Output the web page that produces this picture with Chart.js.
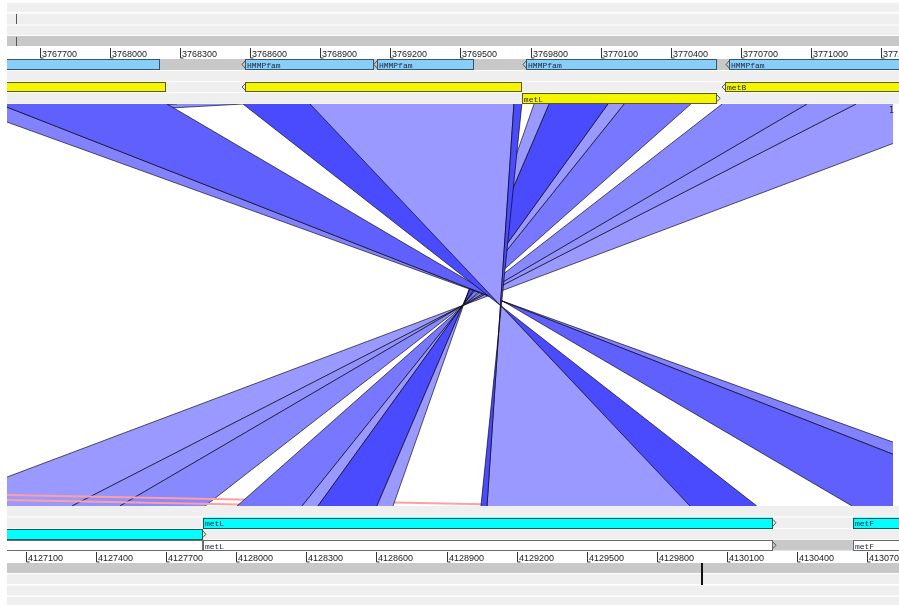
<!DOCTYPE html>
<html>
<head>
<meta charset="utf-8">
<title>ACT comparison</title>
<script src="https://cdn.jsdelivr.net/npm/chart.js@4.4.1/dist/chart.umd.min.js"></script>
<style>
  body { margin: 0; background: #fff; }
  canvas { display: block; }
</style>
</head>
<body>
<canvas id="actChart" width="899" height="605"></canvas>
<script>
// ruler labels of both sequences (bp)
const topTicks = [3767700, 3768000, 3768300, 3768600, 3768900, 3769200, 3769500, 3769800, 3770100, 3770400, 3770700, 3771000, 3771300];
const botTicks = [4127100, 4127400, 4127700, 4128000, 4128300, 4128600, 4128900, 4129200, 4129500, 4129800, 4130100, 4130400, 4130700];

// features of the top sequence
const topFeatStart  = [3767445, 3768579, 3769143, 3769781, 3770649, 3767445, 3768579, 3770632, 3769763];
const topFeatEnd    = [3768215, 3769131, 3769558, 3770598, 3771594, 3768241, 3769763, 3771594, 3770598];
const topFeatTrack  = [0, 0, 0, 0, 0, 1, 1, 1, 2];
const topFeatKind   = ['pfam', 'pfam', 'pfam', 'pfam', 'pfam', 'gene', 'gene', 'gene', 'gene'];
const topFeatLabel  = ['', 'HMMPfam', 'HMMPfam', 'HMMPfam', 'HMMPfam', '', '', 'metB', 'metL'];
const topFeatStrand = [-1, -1, -1, -1, -1, -1, -1, -1, 1];

// features of the bottom sequence
const botFeatStart  = [4127858, 4130638, 4126904, 4126904, 4127858, 4130638];
const botFeatEnd    = [4130296, 4131053, 4127858, 4127858, 4130296, 4131053];
const botFeatTrack  = [0, 0, 1, 2, 2, 2];
const botFeatKind   = ['cds', 'cds', 'cds', 'plain', 'plain', 'plain'];
const botFeatLabel  = ['metL', 'metF', '', '', 'metL', 'metF'];
const botFeatStrand = [1, 1, 1, 1, 1, 1];

// blast matches between the two sequences (bp), in drawing order
const matchTopStart = [3768288, 3771192, 3770982, 3770619, 3681238, 3680139, 3770200, 3770131, 3769879, 3769815, 3767347, 3767527, 3768570, 3768857, 3769729];
const matchTopEnd   = [3768570, 3771799, 3771192, 3770982, 3681678, 3680575, 3770486, 3770200, 3770131, 3769879, 3767527, 3768245, 3768865, 3769729, 3769763];
const matchBotStart = [4097054, 4126691, 4127298, 4127503, 4129222, 4128123, 4128004, 4128282, 4128350, 4128602, 4131374, 4130634, 4129937, 4129073, 4129047];
const matchBotEnd   = [4097353, 4127298, 4127503, 4127867, 4129663, 4128560, 4128282, 4128350, 4128602, 4128671, 4131566, 4131374, 4130227, 4129941, 4129073];
const matchInverted = [true, true, true, true, false, false, true, true, true, true, true, true, true, true, true];
const matchIdentity = [91.5, 90.1, 90.8, 91.8, 89.4, 89.4, 93.5, 90.1, 98.0, 90.1, 92.4, 95.8, 98.0, 90.1, 98.0];

// layout of the ACT panels (pixel rows)
const topRows = [[3, 12, '#efefef'], [13.5, 24.5, '#efefef'], [25.5, 35, '#efefef'], [36, 46, '#c8c8c8'],
                 [59, 70, '#c8c8c8'], [71, 81, '#efefef'], [82, 92, '#efefef'], [93, 103.5, '#efefef']];
const botRows = [[506, 516.5, '#efefef'], [517.5, 528, '#efefef'], [529, 539.5, '#efefef'], [540, 550.5, '#c8c8c8'],
                 [563, 573, '#c8c8c8'], [574, 584, '#efefef'], [585.5, 595.5, '#efefef'], [597, 605, '#efefef']];
const topTrackRows = [[59, 70], [82, 92], [93, 103.5]];
const botTrackRows = [[517.5, 528], [529, 539.5], [540, 550.5]];
const kindStyle = {
  pfam:  { fill: '#87cefa', stroke: '#36566e' },
  gene:  { fill: '#f5f500', stroke: '#5a5a1e' },
  cds:   { fill: '#00ffff', stroke: '#145c5c' },
  plain: { fill: '#ffffff', stroke: '#6a6a6a' }
};
const LEFT = 7, RIGHT = 893, RIB_TOP = 104, RIB_BOT = 506;

function matchColour(i) {
  const c = Math.round(74 + (98 - matchIdentity[i]) * 10);
  return matchInverted[i] ? `rgb(${c},${c},255)` : `rgb(255,${c},${c})`;
}

function drawFeature(ctx, sx, sy, start, end, rows, kind, label, strand) {
  const st = kindStyle[kind];
  const x0 = sx.getPixelForValue(start), x1 = sx.getPixelForValue(end);
  const y0 = sy.getPixelForValue(rows[0]), y1 = sy.getPixelForValue(rows[1]);
  ctx.fillStyle = st.fill;
  ctx.fillRect(x0, y0, x1 - x0, y1 - y0);
  ctx.strokeStyle = st.stroke;
  ctx.lineWidth = 1;
  ctx.strokeRect(Math.round(x0) + 0.5, Math.round(y0) + 0.5, Math.round(x1 - x0) - 1, Math.round(y1 - y0) - 1);
  const mid = (y0 + y1) / 2;
  ctx.strokeStyle = '#555';
  ctx.beginPath();
  if (strand < 0) {
    ctx.moveTo(x0, y0 + 2); ctx.lineTo(x0 - 3, mid); ctx.lineTo(x0, y1 - 2);
  } else {
    ctx.moveTo(x1, y0 + 2); ctx.lineTo(x1 + 3, mid); ctx.lineTo(x1, y1 - 2);
  }
  ctx.stroke();
  if (label) {
    ctx.fillStyle = '#1c2634';
    ctx.font = '8px "Liberation Mono"';
    ctx.textAlign = 'left';
    ctx.textBaseline = 'alphabetic';
    ctx.fillText(label, x0 + 2, y1 - 2);
  }
}

function drawRuler(ctx, sx, sy, ticks, yTop, yBase) {
  const y0 = sy.getPixelForValue(yTop), yb = sy.getPixelForValue(yBase);
  ctx.strokeStyle = '#333';
  ctx.lineWidth = 1;
  ctx.fillStyle = '#1a1a1a';
  ctx.font = '9px "Liberation Sans"';
  ctx.textAlign = 'left';
  ctx.textBaseline = 'alphabetic';
  ticks.forEach(t => {
    const x = Math.round(sx.getPixelForValue(t)) + 0.5;
    ctx.beginPath();
    ctx.moveTo(x, y0); ctx.lineTo(x, yb); ctx.lineTo(x + 3, yb);
    ctx.stroke();
    ctx.fillText(String(t), x + 1.5, yb - 1);
  });
}

const actPlugin = {
  id: 'act',
  beforeDatasetsDraw(chart) {
    const ctx = chart.ctx;
    const xt = chart.scales.xTop, xb = chart.scales.xBot, sy = chart.scales.y;
    ctx.save();
    ctx.fillStyle = '#fff';
    ctx.fillRect(0, 0, chart.width, chart.height);

    // track backgrounds
    topRows.concat(botRows).forEach(r => {
      ctx.fillStyle = r[2];
      const y0 = sy.getPixelForValue(r[0]), y1 = sy.getPixelForValue(r[1]);
      ctx.fillRect(LEFT, y0, chart.width - LEFT, y1 - y0);
    });

    // matches
    const yT = sy.getPixelForValue(RIB_TOP), yB = sy.getPixelForValue(RIB_BOT);
    ctx.save();
    ctx.beginPath();
    ctx.rect(LEFT, yT, RIGHT - LEFT, yB - yT);
    ctx.clip();
    matchTopStart.forEach((ts, i) => {
      const a1 = xt.getPixelForValue(ts), a2 = xt.getPixelForValue(matchTopEnd[i]);
      const b1 = xb.getPixelForValue(matchBotStart[i]), b2 = xb.getPixelForValue(matchBotEnd[i]);
      // inverted matches join top start to bottom end
      const pA = matchInverted[i] ? [a1, b2] : [a1, b1];
      const pB = matchInverted[i] ? [a2, b1] : [a2, b2];
      ctx.fillStyle = matchColour(i);
      ctx.beginPath();
      ctx.moveTo(pA[0], yT); ctx.lineTo(pB[0], yT); ctx.lineTo(pB[1], yB); ctx.lineTo(pA[1], yB);
      ctx.closePath();
      ctx.fill();
      if (matchInverted[i]) {
        ctx.strokeStyle = 'rgba(0,0,0,0.8)';
        ctx.lineWidth = 0.8;
        ctx.beginPath();
        ctx.moveTo(pA[0], yT); ctx.lineTo(pA[1], yB);
        ctx.moveTo(pB[0], yT); ctx.lineTo(pB[1], yB);
        ctx.stroke();
      }
    });
    ctx.restore();

    // features
    ctx.save();
    ctx.beginPath();
    ctx.rect(LEFT, 0, chart.width - LEFT, chart.height);
    ctx.clip();
    topFeatStart.forEach((s, i) => drawFeature(ctx, xt, sy, s, topFeatEnd[i], topTrackRows[topFeatTrack[i]],
      topFeatKind[i], topFeatLabel[i], topFeatStrand[i]));
    botFeatStart.forEach((s, i) => drawFeature(ctx, xb, sy, s, botFeatEnd[i], botTrackRows[botFeatTrack[i]],
      botFeatKind[i], botFeatLabel[i], botFeatStrand[i]));

    drawRuler(ctx, xt, sy, topTicks, 48, 58);
    drawRuler(ctx, xb, sy, botTicks, 552, 562);

    // view position markers
    ctx.fillStyle = '#555';
    ctx.fillRect(16, 14, 1, 10);
    ctx.fillRect(16, 37, 1, 9);
    ctx.fillStyle = '#111';
    ctx.fillRect(701, 563, 2, 22);
    ctx.restore();

    ctx.fillStyle = '#333';
    ctx.font = '8px "DejaVu Sans"';
    ctx.fillText('1', 889, 113);
    ctx.restore();
  }
};

new Chart(document.getElementById('actChart'), {
  type: 'scatter',
  data: { datasets: [] },
  options: {
    responsive: false,
    animation: false,
    devicePixelRatio: 1,
    layout: { padding: 0 },
    plugins: { legend: { display: false }, tooltip: { enabled: false } },
    scales: {
      xTop: { type: 'linear', axis: 'x', position: 'top', display: false, min: 3767531, max: 3771376 },
      xBot: { type: 'linear', axis: 'x', position: 'bottom', display: false, min: 4126990, max: 4130835 },
      y: { type: 'linear', display: false, min: 0, max: 605, reverse: true }
    }
  },
  plugins: [actPlugin]
});
</script>
</body>
</html>
